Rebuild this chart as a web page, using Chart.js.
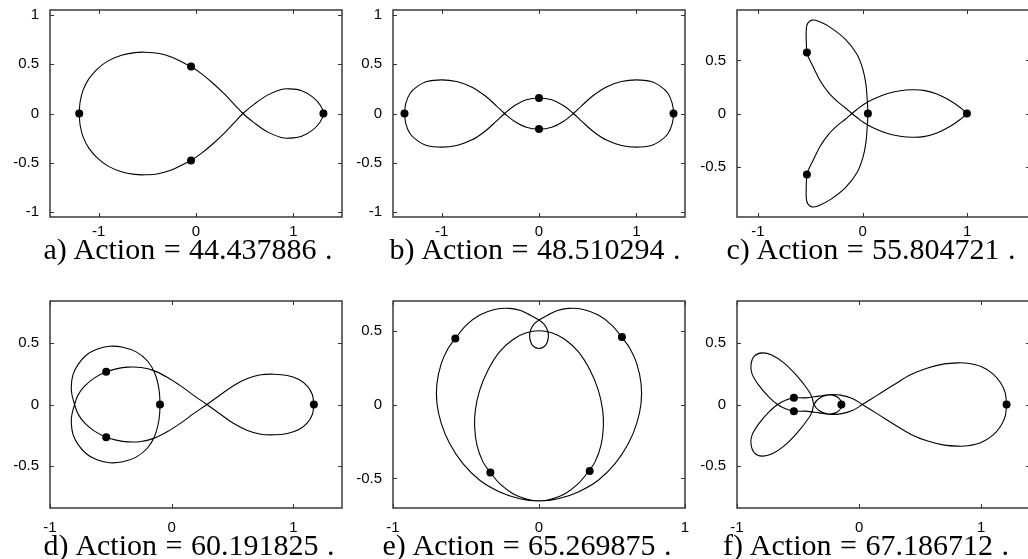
<!DOCTYPE html>
<html>
<head>
<meta charset="utf-8">
<script src="https://cdn.jsdelivr.net/npm/chart.js@4.4.1/dist/chart.umd.min.js"></script>
<style>
  html, body { margin: 0; padding: 0; background: #fff; }
  body { position: relative; width: 1028px; height: 559px; overflow: hidden; }
  .panel { position: absolute; }
  .cap { position: absolute; font-family: "Liberation Serif", "Times New Roman", serif;
         font-size: 30px; line-height: 30px; word-spacing: 1px; white-space: pre; color: #000;
         transform: translateX(-50%); }
</style>
</head>
<body>
<script>
// ---- orbit data: closed curves [x, y] and body positions ----
const curveA = [[-1.200,0],[-1.190,0.122],[-1.159,0.240],[-1.101,0.351],[-1.012,0.453],[-0.903,0.534],[-0.766,0.591],[-0.629,0.618],[-0.526,0.622],[-0.390,0.611],[-0.253,0.574],[-0.133,0.517],[-0.051,0.476],[0.055,0.405],[0.174,0.307],[0.294,0.196],[0.397,0.088],[0.482,0],[0.602,-0.098],[0.738,-0.189],[0.875,-0.243],[0.950,-0.250],[1.080,-0.233],[1.200,-0.166],[1.279,-0.081],[1.309,0],[1.279,0.081],[1.200,0.166],[1.080,0.233],[0.950,0.250],[0.875,0.243],[0.738,0.189],[0.602,0.098],[0.482,0],[0.397,-0.088],[0.294,-0.196],[0.174,-0.307],[0.055,-0.405],[-0.051,-0.476],[-0.133,-0.517],[-0.253,-0.574],[-0.390,-0.611],[-0.526,-0.622],[-0.629,-0.618],[-0.766,-0.591],[-0.903,-0.534],[-1.012,-0.453],[-1.101,-0.351],[-1.159,-0.240],[-1.190,-0.122],[-1.200,0]];
const bodiesA = [[-1.200,0],[-0.051,0.476],[-0.051,-0.476],[1.309,0]];

const curveB = [[-1.382,0],[-1.368,0.105],[-1.324,0.206],[-1.256,0.270],[-1.153,0.324],[-1.000,0.341],[-0.847,0.324],[-0.693,0.270],[-0.557,0.182],[-0.438,0.078],[-0.353,0],[-0.250,-0.081],[-0.131,-0.139],[0,-0.158],[0.131,-0.139],[0.250,-0.081],[0.353,0],[0.438,0.078],[0.557,0.182],[0.693,0.270],[0.847,0.324],[1.000,0.341],[1.153,0.324],[1.256,0.270],[1.324,0.206],[1.368,0.105],[1.382,0],[1.368,-0.105],[1.324,-0.206],[1.256,-0.270],[1.153,-0.324],[1.000,-0.341],[0.847,-0.324],[0.693,-0.270],[0.557,-0.182],[0.438,-0.078],[0.353,0],[0.250,0.081],[0.131,0.139],[0,0.158],[-0.131,0.139],[-0.250,0.081],[-0.353,0],[-0.438,-0.078],[-0.557,-0.182],[-0.693,-0.270],[-0.847,-0.324],[-1.000,-0.341],[-1.153,-0.324],[-1.256,-0.270],[-1.324,-0.206],[-1.368,-0.105],[-1.382,0]];
const bodiesB = [[-1.382,0],[0,0.158],[0,-0.158],[1.382,0]];

const curveC = [[0.997,0],[0.933,0.057],[0.838,0.120],[0.710,0.183],[0.583,0.218],[0.481,0.224],[0.360,0.215],[0.232,0.186],[0.105,0.136],[0.010,0.085],[-0.054,0.038],[-0.102,0],[-0.166,-0.054],[-0.245,-0.117],[-0.325,-0.196],[-0.404,-0.306],[-0.468,-0.432],[-0.516,-0.527],[-0.532,-0.574],[-0.538,-0.685],[-0.538,-0.795],[-0.525,-0.849],[-0.484,-0.880],[-0.420,-0.868],[-0.309,-0.811],[-0.166,-0.700],[-0.054,-0.558],[0.003,-0.416],[0.032,-0.274],[0.045,-0.117],[0.051,0],[0.045,0.117],[0.032,0.274],[0.003,0.416],[-0.054,0.558],[-0.166,0.700],[-0.309,0.811],[-0.420,0.868],[-0.484,0.880],[-0.525,0.849],[-0.538,0.795],[-0.538,0.685],[-0.532,0.574],[-0.516,0.527],[-0.468,0.432],[-0.404,0.306],[-0.325,0.196],[-0.245,0.117],[-0.166,0.054],[-0.102,0],[-0.054,-0.038],[0.010,-0.085],[0.105,-0.136],[0.232,-0.186],[0.360,-0.215],[0.481,-0.224],[0.583,-0.218],[0.710,-0.183],[0.838,-0.120],[0.933,-0.057],[0.997,0]];
const bodiesC = [[0.997,0],[0.051,0],[-0.532,0.574],[-0.532,-0.574]];

const curveD = [[1.169,0],[1.156,0.081],[1.115,0.149],[1.046,0.203],[0.951,0.235],[0.842,0.246],[0.732,0.241],[0.623,0.211],[0.514,0.157],[0.404,0.081],[0.290,0],[0.186,-0.070],[0.077,-0.149],[-0.033,-0.219],[-0.142,-0.273],[-0.251,-0.300],[-0.361,-0.303],[-0.456,-0.289],[-0.538,-0.265],[-0.634,-0.216],[-0.716,-0.149],[-0.770,-0.076],[-0.798,0],[-0.820,0.081],[-0.825,0.149],[-0.811,0.243],[-0.770,0.324],[-0.702,0.400],[-0.620,0.446],[-0.511,0.473],[-0.402,0.465],[-0.292,0.427],[-0.197,0.351],[-0.137,0.249],[-0.104,0.122],[-0.096,0],[-0.104,-0.122],[-0.137,-0.249],[-0.197,-0.351],[-0.292,-0.427],[-0.402,-0.465],[-0.511,-0.473],[-0.620,-0.446],[-0.702,-0.400],[-0.770,-0.324],[-0.811,-0.243],[-0.825,-0.149],[-0.820,-0.081],[-0.798,0],[-0.770,0.076],[-0.716,0.149],[-0.634,0.216],[-0.538,0.265],[-0.456,0.289],[-0.361,0.303],[-0.251,0.300],[-0.142,0.273],[-0.033,0.219],[0.077,0.149],[0.186,0.070],[0.290,0],[0.404,-0.081],[0.514,-0.157],[0.623,-0.211],[0.732,-0.241],[0.842,-0.246],[0.951,-0.235],[1.046,-0.203],[1.115,-0.149],[1.156,-0.081],[1.169,0]];
const bodiesD = [[1.169,0],[-0.096,0],[-0.538,0.265],[-0.538,-0.265]];

const curveE = [[-0.573,0.447],[-0.498,0.537],[-0.406,0.605],[-0.304,0.643],[-0.201,0.650],[-0.121,0.634],[-0.059,0.603],[0,0.571],[0.037,0.540],[0.059,0.499],[0.064,0.454],[0.046,0.402],[0,0.379],[-0.046,0.402],[-0.064,0.454],[-0.059,0.499],[-0.037,0.540],[0,0.571],[0.059,0.603],[0.121,0.634],[0.201,0.650],[0.304,0.643],[0.406,0.605],[0.498,0.537],[0.573,0.447],[0.623,0.379],[0.669,0.278],[0.699,0.142],[0.699,0.007],[0.669,-0.129],[0.612,-0.264],[0.521,-0.400],[0.406,-0.512],[0.269,-0.591],[0.132,-0.637],[0,-0.652],[-0.087,-0.639],[-0.178,-0.603],[-0.269,-0.535],[-0.333,-0.460],[-0.384,-0.388],[-0.425,-0.275],[-0.441,-0.151],[-0.436,-0.038],[-0.406,0.097],[-0.349,0.233],[-0.269,0.357],[-0.178,0.440],[-0.087,0.485],[0,0.499],[0.087,0.485],[0.178,0.440],[0.269,0.357],[0.349,0.233],[0.406,0.097],[0.436,-0.038],[0.441,-0.151],[0.425,-0.275],[0.384,-0.388],[0.333,-0.460],[0.269,-0.535],[0.178,-0.603],[0.087,-0.639],[0,-0.652],[-0.132,-0.637],[-0.269,-0.591],[-0.406,-0.512],[-0.521,-0.400],[-0.612,-0.264],[-0.669,-0.129],[-0.699,0.007],[-0.699,0.142],[-0.669,0.278],[-0.623,0.379],[-0.573,0.447]];
const bodiesE = [[-0.573,0.447],[0.568,0.456],[-0.333,-0.460],[0.347,-0.449]];

const curveF = [[1.208,0],[1.197,0.095],[1.159,0.176],[1.096,0.249],[1.000,0.308],[0.890,0.335],[0.808,0.338],[0.699,0.330],[0.562,0.297],[0.425,0.243],[0.288,0.162],[0.151,0.076],[0.027,0],[-0.055,-0.049],[-0.151,-0.076],[-0.233,-0.081],[-0.329,-0.068],[-0.438,-0.054],[-0.534,-0.054],[-0.603,-0.035],[-0.668,0],[-0.740,0.062],[-0.822,0.157],[-0.877,0.249],[-0.885,0.324],[-0.858,0.392],[-0.795,0.419],[-0.712,0.400],[-0.616,0.338],[-0.507,0.230],[-0.411,0.108],[-0.384,0.054],[-0.370,0],[-0.329,-0.049],[-0.260,-0.076],[-0.192,-0.068],[-0.151,-0.035],[-0.145,0],[-0.151,0.035],[-0.192,0.068],[-0.260,0.076],[-0.329,0.049],[-0.370,0],[-0.384,-0.054],[-0.411,-0.108],[-0.507,-0.230],[-0.616,-0.338],[-0.712,-0.400],[-0.795,-0.419],[-0.858,-0.392],[-0.885,-0.324],[-0.877,-0.249],[-0.822,-0.157],[-0.740,-0.062],[-0.668,0],[-0.603,0.035],[-0.534,0.054],[-0.438,0.054],[-0.329,0.068],[-0.233,0.081],[-0.151,0.076],[-0.055,0.049],[0.027,0],[0.151,-0.076],[0.288,-0.162],[0.425,-0.243],[0.562,-0.297],[0.699,-0.330],[0.808,-0.338],[0.890,-0.335],[1.000,-0.308],[1.096,-0.249],[1.159,-0.176],[1.197,-0.095],[1.208,0]];
const bodiesF = [[1.208,0],[-0.145,0],[-0.534,0.054],[-0.534,-0.054]];

// ---- tick values ----
const ticksX = [-1, 0, 1];
const ticksYWide = [-1, -0.5, 0, 0.5, 1];
const ticksYNarrow = [-0.5, 0, 0.5];

// ---- captions ----
const captions = ['a) Action = 44.437886 .', 'b) Action = 48.510294 .', 'c) Action = 55.804721 .',
                  'd) Action = 60.191825 .', 'e) Action = 65.269875 .', 'f) Action = 67.186712 .'];

// ---- panel geometry (plot box in page pixels) and axis ranges ----
const panels = [
  { curve: curveA, bodies: bodiesA, box: [50, 10, 342, 217],  xr: [-1.5, 1.5], yr: [-1.05, 1.05], yt: ticksYWide,   xPad: 6,  cap: 0, capCenter: 188, capBase: 259 },
  { curve: curveB, bodies: bodiesB, box: [393, 10, 685, 217], xr: [-1.5, 1.5], yr: [-1.05, 1.05], yt: ticksYWide,   xPad: 6,  cap: 1, capCenter: 535, capBase: 259 },
  { curve: curveC, bodies: bodiesC, box: [737, 10, 1030, 216.5], xr: [-1.2, 1.6], yr: [-0.975, 0.975], yt: ticksYNarrow, xPad: 6, cap: 2, capCenter: 871, capBase: 259 },
  { curve: curveD, bodies: bodiesD, box: [50, 301, 342, 508], xr: [-1, 1.4],   yr: [-0.84, 0.84], yt: ticksYNarrow, xPad: 11, cap: 3, capCenter: 189, capBase: 555 },
  { curve: curveE, bodies: bodiesE, box: [393, 301, 685, 508], xr: [-1, 1],    yr: [-0.7, 0.7],   yt: ticksYNarrow, xPad: 11, cap: 4, capCenter: 527, capBase: 555 },
  { curve: curveF, bodies: bodiesF, box: [737, 301, 1030, 508], xr: [-1, 1.4], yr: [-0.84, 0.84], yt: ticksYNarrow, xPad: 11, cap: 5, capCenter: 866, capBase: 555 }
];

const Y_AXIS_W = 60, X_AXIS_H = 40, PAD_T = 10, PAD_R = 8, TICK_LEN = 4;
const tickFont = { family: 'Liberation Sans, Arial, sans-serif', size: 15 };

// frame around the plot with inward tick marks on all four sides
const framePlugin = {
  id: 'frame',
  beforeDatasetsDraw(chart) {
    const { ctx, chartArea: a, scales: { x, y } } = chart;
    ctx.save();
    ctx.strokeStyle = '#3a3a3a';
    ctx.lineWidth = 1.5;
    ctx.strokeRect(a.left, a.top, a.right - a.left, a.bottom - a.top);
    ctx.lineWidth = 1;
    ctx.strokeStyle = '#333';
    ctx.beginPath();
    x.ticks.forEach(t => {
      const px = Math.round(x.getPixelForValue(t.value)) + 0.5;
      ctx.moveTo(px, a.bottom); ctx.lineTo(px, a.bottom - TICK_LEN);
      ctx.moveTo(px, a.top);    ctx.lineTo(px, a.top + TICK_LEN);
    });
    y.ticks.forEach(t => {
      const py = Math.round(y.getPixelForValue(t.value)) + 0.5;
      ctx.moveTo(a.left, py);  ctx.lineTo(a.left + TICK_LEN, py);
      ctx.moveTo(a.right, py); ctx.lineTo(a.right - TICK_LEN, py);
    });
    ctx.stroke();
    ctx.restore();
  }
};

function toPoints(arr) { return arr.map(([x, y]) => ({ x, y })); }

panels.forEach(p => {
  const [l, t, r, b] = p.box;
  const w = Math.round(Y_AXIS_W + (r - l) + PAD_R);
  const h = Math.round(PAD_T + (b - t) + X_AXIS_H);
  const div = document.createElement('div');
  div.className = 'panel';
  div.style.left = (l - Y_AXIS_W) + 'px';
  div.style.top = (t - PAD_T) + 'px';
  div.style.width = w + 'px';
  div.style.height = h + 'px';
  const cv = document.createElement('canvas');
  cv.width = w; cv.height = h;
  cv.style.width = w + 'px'; cv.style.height = h + 'px';
  div.appendChild(cv);
  document.body.appendChild(div);

  new Chart(cv, {
    type: 'scatter',
    data: {
      datasets: [
        { data: toPoints(p.bodies), showLine: false, pointRadius: 4, pointBackgroundColor: '#000',
          pointBorderColor: '#000', pointBorderWidth: 0, order: 0 },
        { data: toPoints(p.curve), showLine: true, borderColor: '#000', borderWidth: 1.1,
          pointRadius: 0, tension: 0.35, fill: false, order: 1 }
      ]
    },
    options: {
      responsive: false, animation: false, devicePixelRatio: 1, events: [],
      layout: { autoPadding: false, padding: { top: PAD_T, right: PAD_R, left: 0, bottom: 0 } },
      plugins: { legend: { display: false }, tooltip: { enabled: false } },
      scales: {
        x: {
          type: 'linear', min: p.xr[0], max: p.xr[1],
          afterBuildTicks: s => { s.ticks = ticksX.map(v => ({ value: v })); },
          afterFit: s => { s.height = X_AXIS_H; s.paddingLeft = 0; s.paddingRight = 0; },
          grid: { display: false, drawTicks: false }, border: { display: false },
          ticks: { padding: p.xPad, font: tickFont, color: '#000', maxRotation: 0, autoSkip: false,
                   callback: v => String(v) }
        },
        y: {
          type: 'linear', min: p.yr[0], max: p.yr[1],
          afterBuildTicks: s => { s.ticks = p.yt.map(v => ({ value: v })); },
          afterFit: s => { s.width = Y_AXIS_W; s.paddingTop = 0; s.paddingBottom = 0; },
          grid: { display: false, drawTicks: false }, border: { display: false },
          ticks: { padding: 11, font: tickFont, color: '#000', autoSkip: false,
                   callback: v => String(v) }
        }
      }
    },
    plugins: [framePlugin]
  });

  const cap = document.createElement('div');
  cap.className = 'cap';
  cap.textContent = captions[p.cap];
  cap.style.left = p.capCenter + 'px';
  cap.style.top = (p.capBase - 25) + 'px';
  document.body.appendChild(cap);
});
</script>
</body>
</html>
